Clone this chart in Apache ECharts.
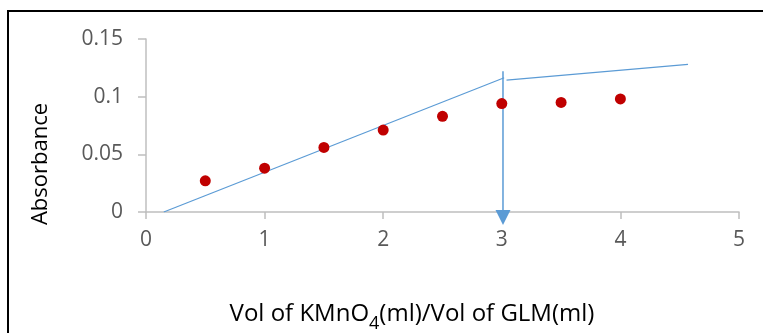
<!DOCTYPE html>
<html>
<head>
<meta charset="utf-8">
<script src="https://cdn.jsdelivr.net/npm/echarts@6/dist/echarts.min.js"></script>
<style>
html,body{margin:0;padding:0;background:#fff;}
#chart{width:763px;height:333px;}
</style>
</head>
<body>
<div id="chart"></div>
<script>
// Measured data points
var xValues = [0.5, 1, 1.5, 2, 2.5, 3, 3.5, 4];
var absorbance = [0.027, 0.038, 0.056, 0.071, 0.083, 0.094, 0.095, 0.098];
// Hand-drawn trend lines (end points)
var rise = [[0.15, 0], [3.02, 0.1164]];
var plateau = [[3.04, 0.1144], [4.57, 0.128]];
var arrowLine = [[3.01, 0.122], [3.01, -0.002]];
var arrowHead = [[3.01, -0.0048]];
var yTickLabels = ['0', '0.05', '0.1', '0.15'];
var xTickLabels = ['0', '1', '2', '3', '4', '5'];

var FONT = 'Open Sans';
var chart = echarts.init(document.getElementById('chart'));
var gray = '#bfbfbf';
var blue = '#5b9bd5';

chart.setOption({
  animation: false,
  textStyle: {fontFamily: FONT},
  grid: {left: 146, right: 24, top: 39, bottom: 121},
  xAxis: {
    type: 'value', min: 0, max: 5, interval: 1,
    axisLine: {lineStyle: {color: gray, width: 1.5}},
    axisTick: {show: true, length: 7, lineStyle: {color: gray, width: 1.5}},
    splitLine: {show: false},
    axisLabel: {color: '#595959', fontSize: 21, margin: 18, fontFamily: FONT,
      formatter: function (v) { return xTickLabels[Math.round(v)]; }}
  },
  yAxis: {
    type: 'value', min: 0, max: 0.15, interval: 0.05,
    axisLine: {show: true, lineStyle: {color: gray, width: 1.5}},
    axisTick: {show: true, length: 8, lineStyle: {color: gray, width: 1.5}},
    splitLine: {show: false},
    axisLabel: {color: '#595959', fontSize: 21, margin: 23, fontFamily: FONT,
      formatter: function (v) { return yTickLabels[Math.round(v / 0.05)]; }}
  },
  graphic: [
    {type: 'rect', shape: {x: 8, y: 11, width: 820, height: 400},
      style: {fill: 'none', stroke: '#000', lineWidth: 2}, silent: true, z: 100},
    {type: 'text', x: 41, y: 164, rotation: Math.PI / 2,
      style: {text: 'Absorbance', fill: '#000', font: '22px "Open Sans"',
        textAlign: 'center', textVerticalAlign: 'middle'}},
    {type: 'text', x: 412, y: 314,
      style: {text: 'Vol of KMnO{sub|4}(ml)/Vol of GLM(ml)', fill: '#000',
        font: '24px "Open Sans"', textAlign: 'center', textVerticalAlign: 'middle',
        rich: {
          sub: {fontSize: 18, fontFamily: FONT, verticalAlign: 'bottom', lineHeight: 38, fill: '#000'}
        }}}
  ],
  series: [
    {type: 'line', data: rise, symbol: 'none', lineStyle: {color: blue, width: 1.2}, z: 2},
    {type: 'line', data: plateau, symbol: 'none', lineStyle: {color: blue, width: 1.2}, z: 2},
    {type: 'line', data: arrowLine, symbol: 'none', clip: false,
      lineStyle: {color: blue, width: 1.5}, z: 2},
    {type: 'scatter', data: arrowHead, symbol: 'triangle', symbolRotate: 180,
      symbolSize: [15, 15], clip: false, itemStyle: {color: blue, opacity: 1}, z: 2},
    {type: 'scatter', data: xValues.map(function (x, i) { return [x, absorbance[i]]; }),
      symbolSize: 11, itemStyle: {color: '#c00000', opacity: 1}, z: 3}
  ]
});
</script>
</body>
</html>
